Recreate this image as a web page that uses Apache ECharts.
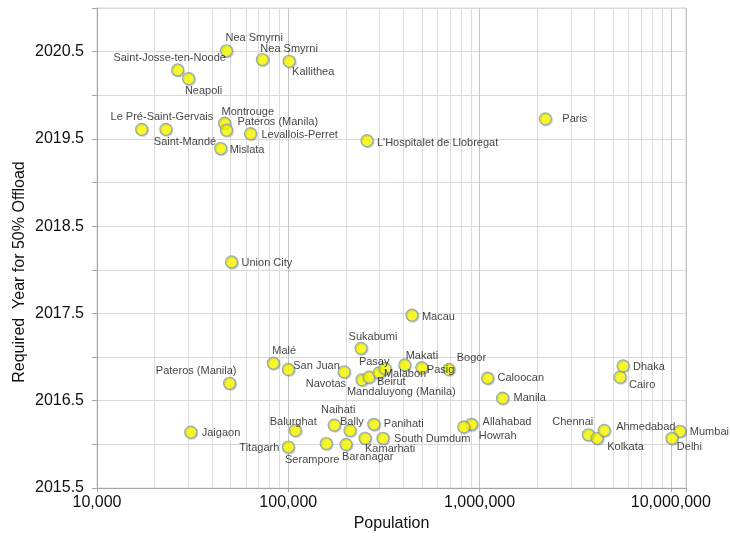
<!DOCTYPE html>
<html>
<head>
<meta charset="utf-8">
<title>Required Year for 50% Offload vs Population</title>
<script src="https://cdn.jsdelivr.net/npm/echarts@6/dist/echarts.min.js"></script>
<style>
  html, body { margin: 0; padding: 0; background: #ffffff; }
  #chart { width: 730px; height: 537px; }
</style>
</head>
<body>
<div id="chart"></div>
<script>
// City names, population and required year for 50% offload
const cityNames = [
  'Nea Smyrni', 'Saint-Josse-ten-Noode', 'Neapoli', 'Nea Smyrni', 'Kallithea',
  'Le Pré-Saint-Gervais', 'Saint-Mandé', 'Montrouge', 'Pateros (Manila)', 'Levallois-Perret',
  'Mislata', "L'Hospitalet de Llobregat", 'Paris', 'Union City', 'Macau',
  'Sukabumi', 'Malé', 'San Juan', 'Pateros (Manila)', 'Navotas',
  'Mandaluyong (Manila)', 'Beirut', 'Malabon', 'Pasay', 'Makati',
  'Pasig', 'Bogor', 'Caloocan', 'Manila', 'Allahabad',
  'Howrah', 'Jaigaon', 'Balurghat', 'Titagarh', 'Naihati',
  'Bally', 'Serampore', 'Baranagar', 'Panihati', 'Kamarhati',
  'South Dumdum', 'Dhaka', 'Cairo', 'Chennai', 'Kolkata',
  'Ahmedabad', 'Mumbai', 'Delhi'
];

const populations = [
  47500, 26400, 30100, 73200, 101000,
  17100, 22900, 46400, 47500, 63400,
  44300, 257700, 2206000, 50500, 443000,
  240000, 83500, 100000, 49300, 195800,
  242700, 264000, 297800, 320000, 406000,
  499000, 690000, 1101000, 1318000, 908000,
  826000, 30900, 108700, 100000, 173800,
  210000, 157900, 200400, 280000, 251900,
  312500, 5623000, 5420000, 3700000, 4120000,
  4480000, 11140000, 10120000
];

const offloadYears = [
  2020.51, 2020.29, 2020.19, 2020.41, 2020.39,
  2019.61, 2019.61, 2019.68, 2019.60, 2019.56,
  2019.39, 2019.48, 2019.73, 2018.09, 2017.48,
  2017.10, 2016.93, 2016.86, 2016.70, 2016.83,
  2016.74, 2016.77, 2016.82, 2016.87, 2016.91,
  2016.88, 2016.86, 2016.76, 2016.53, 2016.23,
  2016.20, 2016.14, 2016.16, 2015.97, 2016.22,
  2016.16, 2016.01, 2016.00, 2016.23, 2016.07,
  2016.07, 2016.90, 2016.77, 2016.11, 2016.07,
  2016.16, 2016.15, 2016.07
];

// Axis ticks
const xTickValues = [10000, 100000, 1000000, 10000000];
const yTickLabels = ['2015.5', '2016.5', '2017.5', '2018.5', '2019.5', '2020.5'];

// Label placement per point: [dx, dy, align] measured from the marker centre
const labelPlacement = [
  [-1, -13, 'left'], [-8, -12, 'center'], [15, 12, 'center'], [-2, -11, 'left'], [3, 11, 'left'],
  [-31, -12, 'left'], [-12, 13, 'left'], [-3, -11, 'left'], [11, -8, 'left'], [11, 1, 'left'],
  [9, 1, 'left'], [10, 2, 'left'], [17, 0, 'left'], [10, 1, 'left'], [10, 2, 'left'],
  [12, -11, 'center'], [-1, -12, 'left'], [5, -3, 'left'], [7, -12, 'right'], [2, 12, 'right'],
  [-15, 12, 'left'], [8, 5, 'left'], [5, 1, 'left'], [-26, -6, 'left'], [1, -9, 'left'],
  [5, 2, 'left'], [8, -11, 'left'], [10, 0, 'left'], [11, 0, 'left'], [11, -2, 'left'],
  [15, 9, 'left'], [11, 1, 'left'], [-2, -8, 'center'], [-9, 1, 'right'], [4, -15, 'center'],
  [2, -8, 'center'], [-14, 16, 'center'], [-4, 13, 'left'], [10, 0, 'left'], [0, 11, 'left'],
  [11, 1, 'left'], [10, 1, 'left'], [9, 8, 'left'], [5, -13, 'right'], [10, 9, 'left'],
  [12, -3, 'left'], [10, 1, 'left'], [5, 9, 'left']
];

const FONT = "'Liberation Sans', Arial, sans-serif";
const TEXT = '#111111';

// Minor log gridlines at 2..9 of each decade
const minorLines = [];
for (let d = 10000; d <= 1000000; d *= 10) {
  for (let k = 2; k <= 9; k++) minorLines.push({ xAxis: k * d });
}

const points = cityNames.map((name, i) => {
  const p = labelPlacement[i];
  return {
    name: name,
    value: [populations[i], offloadYears[i]],
    label: { offset: [p[0], p[1]], align: p[2] }
  };
});

const chart = echarts.init(document.getElementById('chart'), null, { renderer: 'canvas' });

chart.setOption({
  animation: false,
  backgroundColor: '#ffffff',
  grid: {
    left: 97, right: 44, top: 8, bottom: 49,
    show: true, borderColor: '#d6d6d6', borderWidth: 1
  },
  xAxis: {
    type: 'log',
    logBase: 10,
    min: 10000,
    max: 12000000,
    name: 'Population',
    nameLocation: 'middle',
    nameGap: 26,
    nameTextStyle: { fontFamily: FONT, fontSize: 16, color: TEXT },
    axisLine: { show: true, lineStyle: { color: '#a6a6a6' } },
    axisTick: { show: true, length: 4, lineStyle: { color: '#a6a6a6' } },
    axisLabel: {
      fontFamily: FONT, fontSize: 16, color: TEXT, margin: 7,
      formatter: v => xTickValues.some(t => Math.abs(t - v) / t < 1e-6) ? Math.round(v).toLocaleString('en-US') : ''
    },
    splitLine: { show: true, lineStyle: { color: '#c4c4c4', width: 1 } }
  },
  yAxis: {
    type: 'value',
    min: 2015.5,
    max: 2021,
    interval: 0.5,
    axisLine: { show: true, lineStyle: { color: '#a6a6a6' } },
    axisTick: { show: true, length: 5, lineStyle: { color: '#a6a6a6' } },
    axisLabel: {
      fontFamily: FONT, fontSize: 16, color: TEXT, margin: 13,
      formatter: v => {
        const s = v.toFixed(1);
        return yTickLabels.indexOf(s) >= 0 ? s : '';
      }
    },
    splitLine: { show: true, lineStyle: { color: '#d9d9d9', width: 1 } }
  },
  graphic: [{
    type: 'text',
    x: 20,
    y: 272,
    rotation: Math.PI / 2,
    style: {
      text: 'Required  Year for 50% Offload',
      fontFamily: FONT, fontSize: 16, fill: TEXT,
      align: 'center', verticalAlign: 'middle'
    }
  }],
  series: [
    {
      // minor grid of the logarithmic axis, kept beneath markers and labels
      type: 'scatter',
      data: [],
      z: 1,
      silent: true,
      markLine: {
        z: 1,
        silent: true,
        symbol: ['none', 'none'],
        label: { show: false },
        lineStyle: { color: '#dcdcdc', type: 'solid', width: 1 },
        emphasis: { disabled: true },
        data: minorLines
      }
    },
    {
      type: 'scatter',
      z: 3,
      symbol: 'circle',
      symbolSize: 12,
      itemStyle: {
        color: '#ffff00',
        borderColor: '#7f9abb',
        borderWidth: 1.2,
        shadowColor: 'rgba(0,0,0,0.2)',
        shadowBlur: 1,
        shadowOffsetX: 1,
        shadowOffsetY: 1
      },
      label: {
        show: true,
        position: 'inside',
        verticalAlign: 'middle',
        formatter: '{b}',
        fontFamily: FONT,
        fontSize: 11,
        color: TEXT,
        textBorderWidth: 0,
        textBorderColor: 'transparent',
        textShadowBlur: 0
      },
      emphasis: { disabled: true },
      data: points
    }
  ]
});
</script>
</body>
</html>
